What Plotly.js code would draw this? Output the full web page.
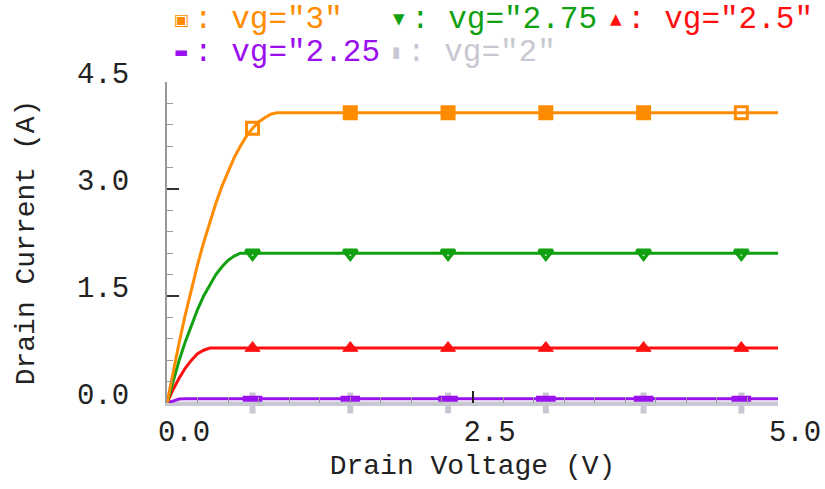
<!DOCTYPE html>
<html>
<head>
<meta charset="utf-8">
<script src="https://cdn.plot.ly/plotly-3.0.1.min.js"></script>
<style>html,body{margin:0;padding:0;background:#fff;}#chart{width:825px;height:489px;}</style>
</head>
<body>
<div id="chart"></div>
<script>
// Drain voltage sample points for the curves (V)
const vds = [0, 0.05, 0.1, 0.15, 0.2, 0.25, 0.3, 0.35, 0.4, 0.45, 0.5, 0.55, 0.6, 0.65, 0.7, 0.75, 0.8, 0.85, 0.9, 0.95, 1.0, 5.0];
// Drain current (A)
const id_vg3    = [0, 0.44, 0.85, 1.24, 1.6, 1.94, 2.25, 2.54, 2.8, 3.04, 3.25, 3.44, 3.6, 3.74, 3.85, 3.94, 4.0, 4.05, 4.07, 4.07, 4.07, 4.07];
const id_vg275  = [0, 0.31, 0.6, 0.86, 1.1, 1.31, 1.5, 1.66, 1.8, 1.91, 2.0, 2.06, 2.1, 2.1, 2.1, 2.1, 2.1, 2.1, 2.1, 2.1, 2.1, 2.1];
const id_vg25   = [0, 0.19, 0.35, 0.49, 0.6, 0.69, 0.74, 0.77, 0.77, 0.77, 0.77, 0.77, 0.77, 0.77, 0.77, 0.77, 0.77, 0.77, 0.77, 0.77, 0.77, 0.77];
const id_vg225  = [0, 0.03, 0.055, 0.06, 0.06, 0.06, 0.06, 0.06, 0.06, 0.06, 0.06, 0.06, 0.06, 0.06, 0.06, 0.06, 0.06, 0.06, 0.06, 0.06, 0.06, 0.06];
const id_vg2    = [0, 0, 0, 0, 0, 0, 0, 0, 0, 0, 0, 0, 0, 0, 0, 0, 0, 0, 0, 0, 0, 0];
// Marker positions
const mk_x      = [0.7, 1.5, 2.3, 3.1, 3.9, 4.7];
const mk_vg3    = [3.85, 4.07, 4.07, 4.07, 4.07, 4.07];
const mk_vg275  = [2.1, 2.1, 2.1, 2.1, 2.1, 2.1];
const mk_vg25   = [0.77, 0.77, 0.77, 0.77, 0.77, 0.77];
const mk_vg225  = [0.06, 0.06, 0.06, 0.06, 0.06, 0.06];
const mk_vg2    = [0, 0, 0, 0, 0, 0];
// Legend labels
const seriesNames = [': vg="3"', ': vg="2.75', ': vg="2.5"', ': vg="2.25', ': vg="2"'];
const seriesSyms  = ['\u25A3', '\u25BC', '\u25B2', '\u25AC', '\u25AE'];

const C = {o:'#ff8c00', g:'#10a010', r:'#ff1010', p:'#9a10ee', k:'#c8c8d2'};
const FONT = 'Liberation Mono, DejaVu Sans Mono, monospace';

function curve(y, col){ return {x:vds, y:y, mode:'lines', line:{color:col, width:3}, showlegend:false, cliponaxis:false, hoverinfo:'skip'}; }
function marks(y, col, sym, size, lw, fill){
  return {x:mk_x, y:y, mode:'markers', showlegend:false, cliponaxis:false, hoverinfo:'skip',
    marker:{symbol:sym, size:size, color:fill||col, line:{color:col, width:lw}}};
}

const traces = [
  curve(id_vg2, C.k),
  marks(mk_vg2, C.k, 'line-ns', 15, 6),
  curve(id_vg225, C.p),
  marks(mk_vg225, C.p, 'line-ew', 14, 6),
  curve(id_vg25, C.r),
  marks(mk_vg25, C.r, 'triangle-up', 13, 1),
  curve(id_vg275, C.g),
  marks(mk_vg275, C.g, 'triangle-down-open', 12, 3.5),
  curve(id_vg3, C.o),
  {x:mk_x, y:mk_vg3, mode:'markers', showlegend:false, cliponaxis:false, hoverinfo:'skip',
   marker:{symbol:['square-open','square','square','square','square','square-open'], size:12, color:C.o, line:{color:C.o, width:3}}}
];

const L = 167, T = 82, R = 778, B = 403;
const pw = R - L, ph = B - T;
function legendItem(i, col, sx, sy, tx, ssize){
  return [
    {xref:'paper', yref:'paper', x:(sx-L)/pw, y:(B-sy)/ph, text:seriesSyms[i], showarrow:false, xanchor:'center', yanchor:'middle', borderpad:0, font:{family:'DejaVu Sans', size:ssize||15, color:col}},
    {xref:'paper', yref:'paper', x:(tx-L)/pw, y:(B-sy)/ph, text:seriesNames[i], showarrow:false, xanchor:'left', yanchor:'middle', borderpad:0, font:{family:FONT, size:31, color:col}}
  ];
}
const annotations = [].concat(
  legendItem(0, C.o, 181, 19, 193, 16),
  legendItem(1, C.g, 399, 19, 410),
  legendItem(2, C.r, 616, 19, 626),
  legendItem(3, C.p, 181, 52, 193),
  legendItem(4, C.k, 396, 52, 406)
);

const layout = {
  width:825, height:489,
  margin:{l:L, r:825-R, t:T, b:489-B, pad:0},
  paper_bgcolor:'#fff', plot_bgcolor:'#fff',
  font:{family:FONT, color:'#222'},
  showlegend:false,
  xaxis:{range:[0,5], showgrid:false, zeroline:false, showline:true, linecolor:'#c8c8d2', linewidth:3,
    ticks:'inside', ticklen:12, tickwidth:2, tickcolor:'#222', dtick:2.5, tick0:0, tickformat:'.1f',
    tickfont:{family:FONT, size:29, color:'#222'}, ticklabelshift:17, ticklabelstandoff:0,
    minor:{dtick:0.25, ticks:'inside', ticklen:6, tickcolor:'#999', tickwidth:1},
    title:{text:'Drain Voltage (V)', font:{family:FONT, size:28, color:'#222'}, standoff:6}},
  yaxis:{range:[0,4.5], showgrid:false, zeroline:false, showline:true, linecolor:'#999', linewidth:2,
    ticks:'inside', ticklen:12, tickwidth:2, tickcolor:'#333', dtick:1.5, tick0:0, tickformat:'.1f',
    tickfont:{family:FONT, size:29, color:'#222'}, ticklabelshift:-9, ticklabelstandoff:30,
    minor:{dtick:0.3, ticks:'inside', ticklen:6, tickcolor:'#999', tickwidth:1},
    title:{text:'Drain Current (A)', font:{family:FONT, size:28, color:'#222'}, standoff:34}},
  annotations:annotations
};

Plotly.newPlot('chart', traces, layout, {staticPlot:true, displayModeBar:false});
</script>
</body>
</html>
